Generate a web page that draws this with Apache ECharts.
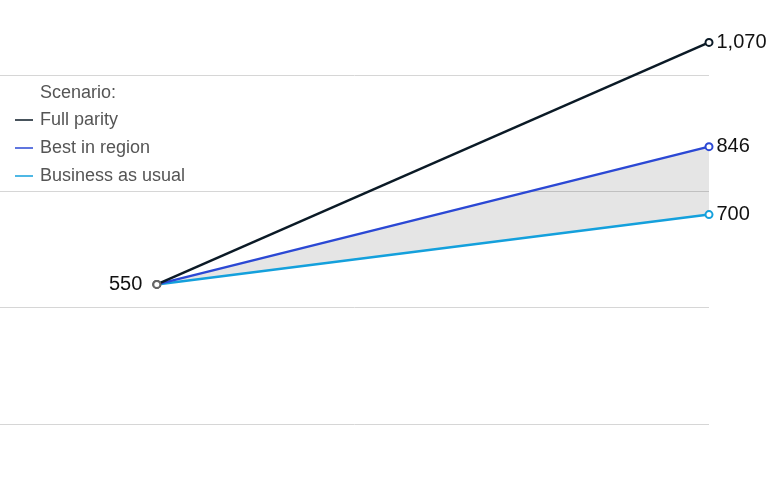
<!DOCTYPE html>
<html>
<head>
<meta charset="utf-8">
<script src="https://cdn.jsdelivr.net/npm/echarts@6/dist/echarts.min.js"></script>
<style>
  html, body { margin: 0; padding: 0; background: #fff; }
  #main { width: 767px; height: 480px; }
</style>
</head>
<body>
<div id="main"></div>
<script>
var chart = echarts.init(document.getElementById('main'));

// start / end of the projection
const periods = [0, 1];
const fullParity = [550, 1070];
const bestInRegion = [550, 846];
const businessAsUsual = [550, 700];
const yTicks = [250, 500, 750, 1000];

const names = ['Full parity', 'Best in region', 'Business as usual'];
const colors = ['#0b1a26', '#2b48d4', '#14a0dc'];

const fmt = (v) => v.toLocaleString('en-US');

function points(values, showStart) {
    return values.map((v, i) => ({
        value: [periods[i], v],
        label: {
            show: i === values.length - 1 || showStart,
            position: i === 0 ? 'left' : 'right',
            distance: i === 0 ? 10 : 3,
        },
        itemStyle: i === 0 ? { color: '#666', borderColor: '#666' } : undefined,
    }));
}

function lineSeries(name, values, color, showStart) {
    return {
        name: name,
        type: 'line',
        clip: false,
        symbol: 'emptyCircle',
        symbolSize: 7,
        lineStyle: { width: 2.5, color: color },
        itemStyle: { color: color, borderColor: color, borderWidth: 1.5 },
        label: {
            fontSize: 20,
            color: '#111',
            fontFamily: 'Liberation Sans',
            formatter: (p) => fmt(p.value[1]),
        },
        emphasis: { disabled: true },
        z: 5,
        data: points(values, showStart),
    };
}

var option = {
    animation: false,
    textStyle: { fontFamily: 'Liberation Sans' },
    grid: { left: 0, right: 58, top: 75, bottom: 56 },
    graphic: [{
        type: 'text',
        left: 40,
        top: 84,
        style: { text: 'Scenario:', fontSize: 18, fill: '#555', fontFamily: 'Liberation Sans' },
    }],
    legend: {
        orient: 'vertical',
        left: 10,
        top: 106,
        icon: 'rect',
        itemWidth: 18,
        itemHeight: 1.5,
        itemGap: 10,
        selectedMode: false,
        lineStyle: { width: 1.5 },
        itemStyle: { borderWidth: 0 },
        textStyle: { fontSize: 18, color: '#555', padding: [0, 0, 0, 2] },
        data: names.map((n, i) => ({ name: n, itemStyle: { color: colors[i], borderWidth: 0 } })),
    },
    xAxis: { type: 'value', min: -0.284, max: 1, show: false },
    yAxis: {
        type: 'value',
        min: yTicks[0],
        max: yTicks[yTicks.length - 1],
        interval: 250,
        axisLabel: { show: false },
        axisLine: { show: false },
        axisTick: { show: false },
        splitLine: { lineStyle: { color: '#d6d6d6', width: 1 } },
    },
    series: [
        {
            // shaded gap between "Best in region" and "Business as usual"
            name: 'band',
            type: 'custom',
            silent: true,
            z: 1,
            data: [0],
            renderItem: function (params, api) {
                var upper = bestInRegion.map((v, i) => api.coord([periods[i], v]));
                var lower = businessAsUsual.map((v, i) => api.coord([periods[i], v])).reverse();
                return {
                    type: 'polygon',
                    shape: { points: upper.concat(lower) },
                    style: { fill: 'rgba(0,0,0,0.1)' },
                };
            },
        },
        lineSeries(names[2], businessAsUsual, colors[2], false),
        lineSeries(names[1], bestInRegion, colors[1], false),
        lineSeries(names[0], fullParity, colors[0], true),
    ],
};

chart.setOption(option);

window.addEventListener('resize', function () {
    chart.resize();
});
</script>
</body>
</html>
